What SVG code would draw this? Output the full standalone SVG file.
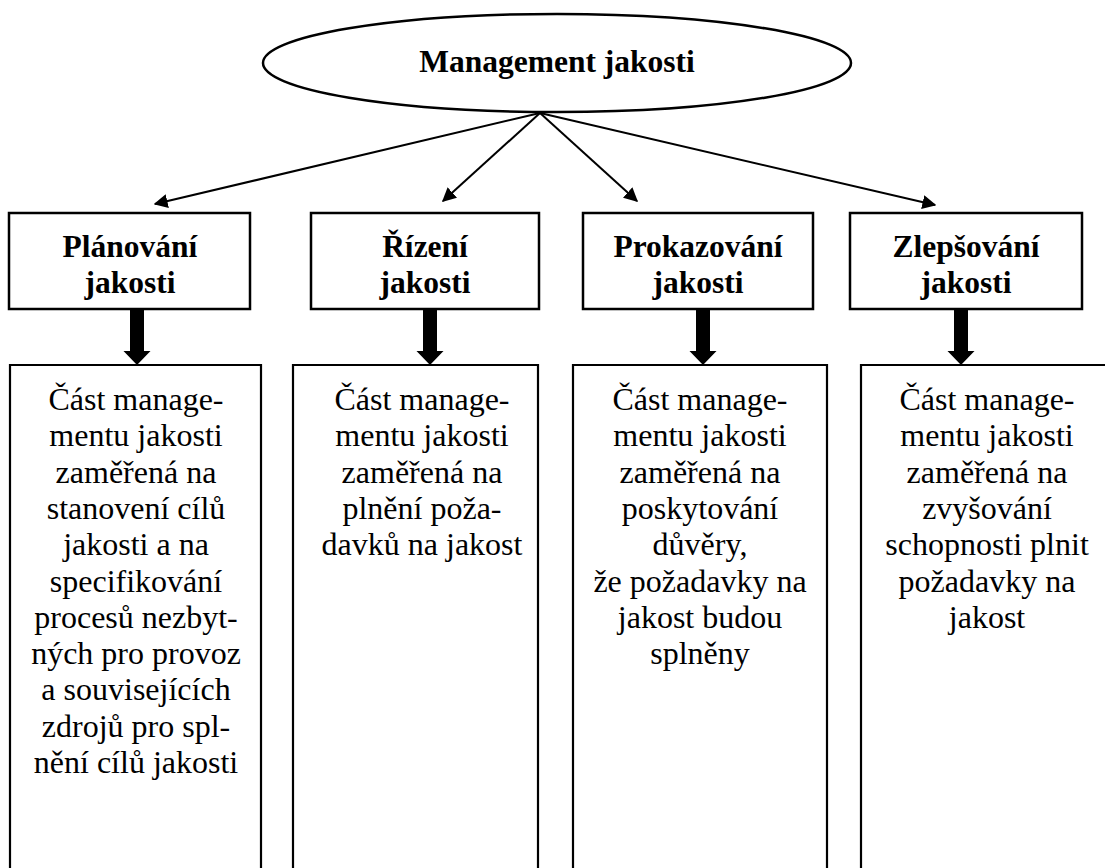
<svg xmlns="http://www.w3.org/2000/svg" width="1105" height="868" viewBox="0 0 1105 868">
<style>
text{font-family:'Liberation Serif','DejaVu Serif',serif;fill:#000;text-anchor:middle}
.title{font-weight:bold;font-size:31.5px}
.body{font-size:32px}
.box{fill:#fff;stroke:#000;stroke-width:2.5}
.open{fill:none;stroke:#000;stroke-width:2.2}
.conn{stroke:#000;stroke-width:2;fill:none}
.thick{fill:#000;stroke:none}
</style>
<defs>
<marker id="ah" viewBox="0 0 10 10" refX="9" refY="5" markerWidth="7" markerHeight="7" markerUnits="strokeWidth" orient="auto">
<path d="M0,0 L10,5 L0,10 Z" fill="#000"/>
</marker>
<path id="tarrow" d="M-7,0 H7 V42 H13.5 L0,56 L-13.5,42 H-7 Z"/>
</defs>
<rect width="1105" height="868" fill="#fff"/>
<g id="root">
<ellipse cx="557" cy="63" rx="294" ry="49" fill="#fff" stroke="#000" stroke-width="2.5"/>
<text class="title" x="557" y="72" font-family="Liberation Serif, serif">Management jakosti</text>
</g>
<g id="connectors">
<line class="conn" x1="540" y1="113" x2="155" y2="204" marker-end="url(#ah)"/>
<line class="conn" x1="540" y1="113" x2="443" y2="201" marker-end="url(#ah)"/>
<line class="conn" x1="540" y1="113" x2="637" y2="201" marker-end="url(#ah)"/>
<line class="conn" x1="540" y1="113" x2="935" y2="205" marker-end="url(#ah)"/>
<use href="#tarrow" class="thick" x="137" y="309"/>
<use href="#tarrow" class="thick" x="430" y="309"/>
<use href="#tarrow" class="thick" x="703" y="309"/>
<use href="#tarrow" class="thick" x="961" y="309"/>
</g>
<g id="h1">
<rect class="box" x="9" y="213" width="241" height="96"/>
<text class="title" x="130" y="257">Plánování</text>
<text class="title" x="130" y="293">jakosti</text>
</g>
<g id="h2">
<rect class="box" x="311" y="213" width="228" height="96"/>
<text class="title" x="425" y="257">Řízení</text>
<text class="title" x="425" y="293">jakosti</text>
</g>
<g id="h3">
<rect class="box" x="583" y="213" width="230" height="96"/>
<text class="title" x="698" y="257">Prokazování</text>
<text class="title" x="698" y="293">jakosti</text>
</g>
<g id="h4">
<rect class="box" x="850" y="213" width="232" height="96"/>
<text class="title" x="966" y="257">Zlepšování</text>
<text class="title" x="966" y="293">jakosti</text>
</g>
<g id="b1">
<path class="open" d="M10,870 V365 H261 V870"/>
<text class="body" x="136" y="410">Část manage-</text>
<text class="body" x="136" y="446.3">mentu jakosti</text>
<text class="body" x="136" y="482.6">zaměřená na</text>
<text class="body" x="136" y="518.9">stanovení cílů</text>
<text class="body" x="136" y="555.2">jakosti a na</text>
<text class="body" x="136" y="591.5">specifikování</text>
<text class="body" x="136" y="627.8">procesů nezbyt-</text>
<text class="body" x="136" y="664.1">ných pro provoz</text>
<text class="body" x="136" y="700.4">a souvisejících</text>
<text class="body" x="136" y="736.7">zdrojů pro spl-</text>
<text class="body" x="136" y="773">nění cílů jakosti</text>
</g>
<g id="b2">
<path class="open" d="M293,870 V365 H538 V870"/>
<text class="body" x="422" y="410">Část manage-</text>
<text class="body" x="422" y="446.3">mentu jakosti</text>
<text class="body" x="422" y="482.6">zaměřená na</text>
<text class="body" x="422" y="518.9">plnění poža-</text>
<text class="body" x="422" y="555.2">davků na jakost</text>
</g>
<g id="b3">
<path class="open" d="M573,870 V365 H827 V870"/>
<text class="body" x="700" y="410">Část manage-</text>
<text class="body" x="700" y="446.3">mentu jakosti</text>
<text class="body" x="700" y="482.6">zaměřená na</text>
<text class="body" x="700" y="518.9">poskytování</text>
<text class="body" x="700" y="555.2">důvěry,</text>
<text class="body" x="700" y="591.5">že požadavky na</text>
<text class="body" x="700" y="627.8">jakost budou</text>
<text class="body" x="700" y="664.1">splněny</text>
</g>
<g id="b4">
<path class="open" d="M861,870 V365 H1110"/>
<text class="body" x="987" y="410">Část manage-</text>
<text class="body" x="987" y="446.3">mentu jakosti</text>
<text class="body" x="987" y="482.6">zaměřená na</text>
<text class="body" x="987" y="518.9">zvyšování</text>
<text class="body" x="987" y="555.2">schopnosti plnit</text>
<text class="body" x="987" y="591.5">požadavky na</text>
<text class="body" x="987" y="627.8">jakost</text>
</g>
</svg>
